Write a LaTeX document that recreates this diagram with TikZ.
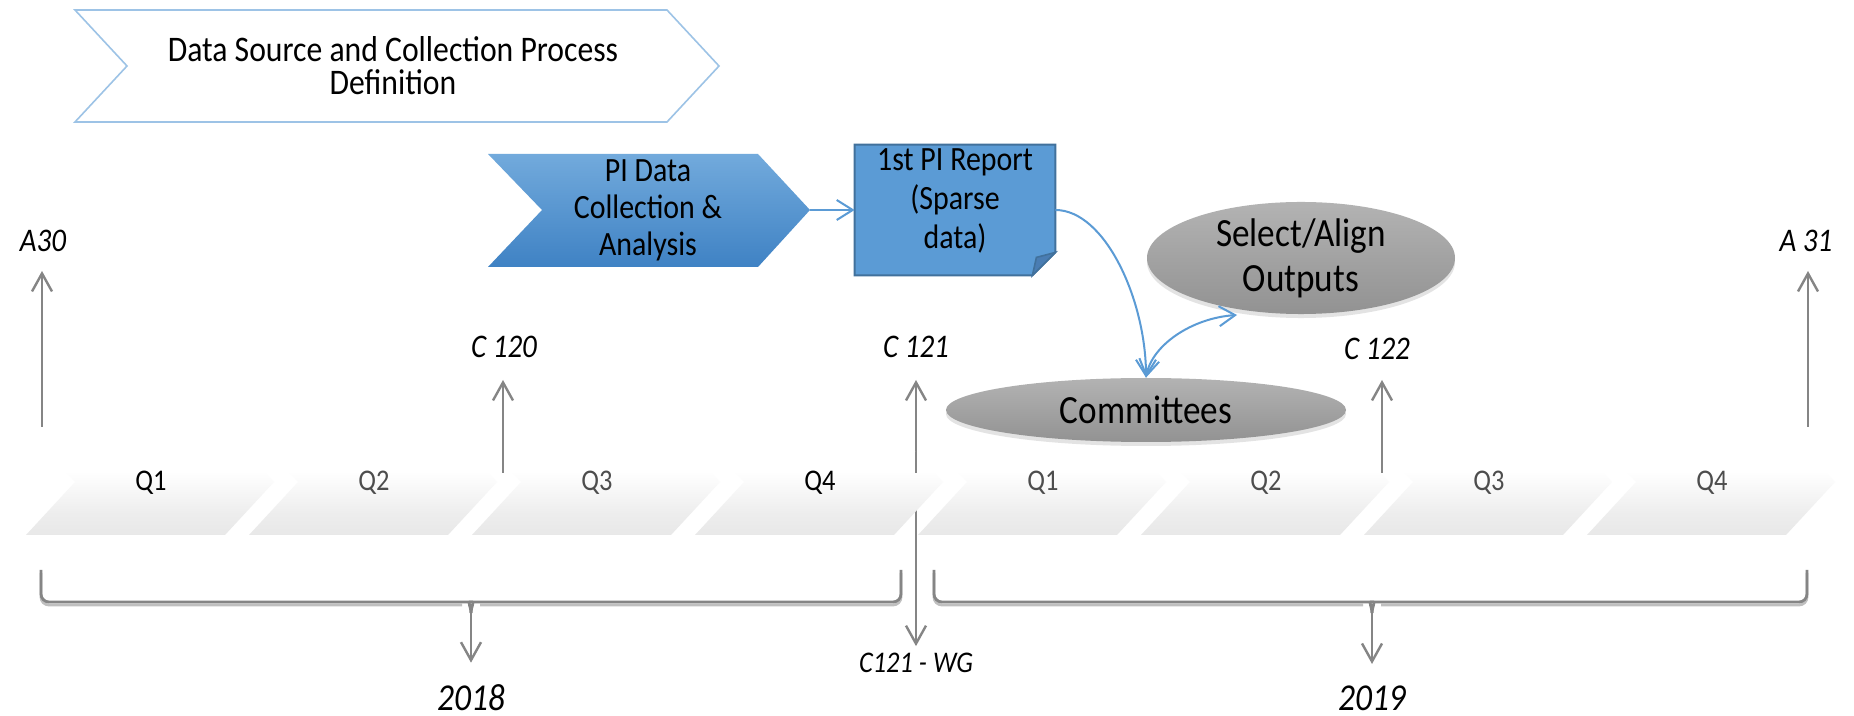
\documentclass[tikz,border=0pt]{standalone}
\usepackage{fontspec}
\setmainfont{Carlito}[FakeStretch=0.88]
\usetikzlibrary{arrows.meta,shapes.geometric,shadows,calc}
\definecolor{blueline}{HTML}{5B9BD5}
\definecolor{chevline}{HTML}{9DC3E6}
\definecolor{pitop}{HTML}{72AADC}
\definecolor{pibot}{HTML}{3F82C4}
\definecolor{repfill}{HTML}{5B9BD5}
\definecolor{repline}{HTML}{41719C}
\definecolor{repfold}{HTML}{4A7DB3}
\definecolor{arrgrey}{HTML}{858585}
\definecolor{elltop}{HTML}{B3B3B3}
\definecolor{ellbot}{HTML}{929292}
\definecolor{qgrey}{HTML}{4D4D4D}
\pgfdeclareverticalshading{tilegrad}{100bp}{color(0bp)=(black!14); color(35bp)=(black!7); color(55bp)=(white); color(100bp)=(white)}
\newcommand\fsz[2]{\fontsize{#1}{#2}\selectfont}
\begin{document}
\begin{tikzpicture}[x=0.5pt,y=-0.5pt,
  garrow/.style={draw=arrgrey,line width=1.2pt,-{Straight Barb[length=9pt,width=10pt]}},
  gline/.style={draw=arrgrey,line width=1.4pt},
  barrow/.style={draw=blueline,line width=1pt,-{Straight Barb[length=8pt,width=10pt]}},
  lab/.style={inner sep=0pt,font=\fsz{16.5}{18}\itshape},
  qlab/.style={inner sep=0pt,font=\fsz{15}{17}},
  ellnode/.style={ellipse,inner sep=0pt,top color=elltop,bottom color=ellbot,
    drop shadow={shadow xshift=0pt,shadow yshift=-2pt,opacity=0.22}},
  yearlab/.style={inner sep=0pt,font=\fsz{19}{21}\itshape}]
\fill[white] (0,0) rectangle (1854,716);
\useasboundingbox (0,0) rectangle (1854,716);

% milestone labels
\node[lab,anchor=base] (a30) at (43,252) {A30};
\node[lab,anchor=base] (c120) at (504,358) {C 120};
\node[lab,anchor=base] (c121) at (916,358) {C 121};
\node[lab,anchor=base] (c122) at (1377,360) {C 122};
\node[lab,anchor=base] (a31) at (1806,252) {A 31};
\node[inner sep=0pt,anchor=base,font=\fsz{15}{17}\itshape] (c121wg) at (916,673) {C121 - WG};

% C121 double arrow (runs behind the Q4 tile)
\draw[garrow,{Straight Barb[length=9pt,width=10pt]}-{Straight Barb[length=9pt,width=10pt]},shorten <=11pt,shorten >=3.5pt] (c121.base) -- (c121wg.north);

% quarter tiles
\foreach \i/\q/\c in {1/Q1/black,2/Q2/qgrey,3/Q3/qgrey,4/Q4/black,5/Q1/qgrey,6/Q2/qgrey,7/Q3/qgrey,8/Q4/qgrey}{
  \pgfmathsetmacro\xk{26+223.0*(\i-1)}
  \shade[shading=tilegrad] (\xk,429) -- ++(199,0) -- ++(49,53) -- ++(-49,53) -- ++(-199,0) -- ++(49,-53) -- cycle;
  \node[qlab,text=\c] (q\i) at (\xk+125,483) {\q};
}
\coordinate (c121s) at (916,452);
\coordinate (c121e) at (916,473);
\draw[gline,line width=1.2pt] (c121s) -- (c121e);

% milestone arrows
\coordinate (a30b) at (42,427);
\coordinate (c120b) at (503,473);
\coordinate (c122b) at (1382,473);
\coordinate (a31b) at (1808,427);
\draw[garrow,shorten >=9.5pt] (a30b) -- (a30b |- a30.base);
\draw[garrow,shorten >=11pt] (c120b) -- (c120b |- c120.base);
\draw[garrow,shorten >=10pt] (c122b) -- (c122b |- c122.base);
\draw[garrow,shorten >=9.5pt] (a31b) -- (a31b |- a31.base);

% top chevron
\draw[draw=chevline,line width=0.8pt,fill=white] (75,10) -- (667,10) -- (719,66) -- (667,122) -- (75,122) -- (127,66) -- cycle;
\node[inner sep=0pt,align=center,font=\fsz{18}{16.5}] (dsc) at (393,66) {Data Source and Collection Process\\Definition};

% PI chevron
\shade[top color=pitop,bottom color=pibot] (488,154) -- (758,154) -- (810,210) -- (758,267) -- (488,267) -- (542,210) -- cycle;
\node[inner sep=0pt,align=center,font=\fsz{17}{18.5}] (pi) at (648,210) {PI Data\\Collection \&\\Analysis};
\coordinate (pitip) at (810,210);

% report box
\node[minimum width=100pt,minimum height=65pt,inner sep=0pt] (repbox) at (955,210) {};
\filldraw[fill=repfill,draw=repline,line width=1pt] (repbox.north west) -- (repbox.north east) -- ($(repbox.south east)+(0,-23)$) -- ($(repbox.south east)+(-23,0)$) -- (repbox.south west) -- cycle;
\filldraw[fill=repfold,draw=repline,line width=0.8pt] ($(repbox.south east)+(-23,0)$) -- ($(repbox.south east)+(-19,-18)$) -- ($(repbox.south east)+(0,-23)$) -- cycle;
\node[inner sep=0pt,align=center,font=\fsz{17}{19.5}] (rep) at (955,201) {1st PI Report\\(Sparse\\data)};

\draw[barrow] (pitip) -- (repbox.west);

% ellipses
\node[ellnode,minimum width=154pt,minimum height=56pt,align=center,font=\fsz{20}{22.5}] (sel) at (1301,258) {Select/Align\\Outputs};
\node[ellnode,minimum width=200pt,minimum height=32pt,font=\fsz{20}{22}] (comm) at (1146,410) {Committees};
\coordinate (selin) at (1237,315);

\draw[barrow] (repbox.east) .. controls (1105,210) and (1146,300) .. (comm.north);
\draw[barrow,{Straight Barb[length=8pt,width=10pt]}-{Straight Barb[length=8pt,width=10pt]}] (comm.north) .. controls (1152,345) and (1192,318) .. (selin);

% year brackets
\node[yearlab,anchor=base] (y18) at (471,710) {2018};
\node[yearlab,anchor=base] (y19) at (1372,710) {2019};
\coordinate (sp18) at (471,613);
\coordinate (sp19) at (1372,613);
\foreach \l/\m/\r/\s in {41/471/901/sp18,934/1372/1807/sp19}{
  \draw[gline,draw=black!25,rounded corners=4pt] (\l,573) -- (\l,605) -- (\m-9,605);
  \draw[gline,draw=black!25,rounded corners=4pt] (\r,573) -- (\r,605) -- (\m+9,605);
  \draw[gline,rounded corners=4pt] (\l,570) -- (\l,602) -- (\m-9,602) to[out=0,in=90] (\s);
  \draw[gline,rounded corners=4pt] (\r,570) -- (\r,602) -- (\m+9,602) to[out=180,in=90] (\s);
}
\draw[garrow,shorten >=10.5pt] (sp18) -- (y18.north);
\draw[garrow,shorten >=10.5pt] (sp19) -- (y19.north);
\end{tikzpicture}
\end{document}
